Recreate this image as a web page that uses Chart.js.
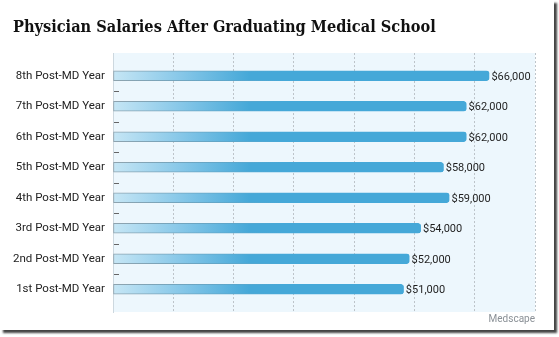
<!DOCTYPE html>
<html>
<head>
<meta charset="utf-8">
<script src="https://cdn.jsdelivr.net/npm/chart.js@4"></script>
<style>
  html, body { margin: 0; padding: 0; background: #fff; }
  .frame { position: absolute; left: 0; top: 0; width: 554px; height: 330px; background: #fff; box-shadow: 3px 3px 2px #444; }
  canvas { display: block; }
</style>
</head>
<body>
<div class="frame"><canvas id="salaryChart" width="554" height="330"></canvas></div>
<script>
const categories = ['1st Post-MD Year', '2nd Post-MD Year', '3rd Post-MD Year', '4th Post-MD Year',
    '5th Post-MD Year', '6th Post-MD Year', '7th Post-MD Year', '8th Post-MD Year'];
const salaries = [51000, 52000, 54000, 59000, 58000, 62000, 62000, 66000];
const xTickStep = 10000;

function money(v) {
    return '$' + v.toLocaleString('en-US');
}

const plotBackground = {
    id: 'plotBackground',
    beforeDraw(chart) {
        const { ctx, chartArea } = chart;
        ctx.save();
        ctx.fillStyle = '#edf7fd';
        ctx.fillRect(chartArea.left, chartArea.top, chartArea.right - chartArea.left, chartArea.bottom - chartArea.top);
        ctx.restore();
    },
};

const rowTicks = {
    id: 'rowTicks',
    afterDatasetsDraw(chart) {
        const { ctx, chartArea } = chart;
        const y = chart.scales.y;
        ctx.save();
        ctx.strokeStyle = '#666';
        ctx.lineWidth = 1;
        for (let i = 0; i < categories.length - 1; i += 1) {
            const py = Math.round(y.getPixelForValue(i + 0.5)) + 0.5;
            ctx.beginPath();
            ctx.moveTo(chartArea.left + 1, py);
            ctx.lineTo(chartArea.left + 6, py);
            ctx.stroke();
        }
        ctx.restore();
    },
};

const valueLabels = {
    id: 'valueLabels',
    afterDatasetsDraw(chart) {
        const { ctx } = chart;
        const meta = chart.getDatasetMeta(0);
        ctx.save();
        ctx.font = '11px Roboto';
        ctx.fillStyle = '#1e1e1e';
        ctx.textAlign = 'left';
        ctx.textBaseline = 'middle';
        meta.data.forEach((bar, i) => {
            ctx.fillText(money(salaries[i]), bar.x + 2, bar.y + 1);
        });
        ctx.restore();
    },
    afterDraw(chart) {
        const { ctx, chartArea } = chart;
        ctx.save();
        ctx.font = '10px Roboto';
        ctx.fillStyle = '#8a9096';
        ctx.textAlign = 'right';
        ctx.textBaseline = 'middle';
        ctx.fillText('Medscape', chartArea.right, chartArea.bottom + 7);
        ctx.restore();
    },
};

function barFill(context) {
    const { chart } = context;
    if (!chart.chartArea) return '#45a8d8';
    const x = chart.scales.x;
    const g = chart.ctx.createLinearGradient(x.getPixelForValue(0), 0, x.getPixelForValue(24000), 0);
    g.addColorStop(0, '#c6e6f5');
    g.addColorStop(0.5, '#86c7e8');
    g.addColorStop(1, '#45a8d8');
    return g;
}

function barBorder(context) {
    const { chart } = context;
    if (!chart.chartArea) return '#7f9aa8';
    const x = chart.scales.x;
    const g = chart.ctx.createLinearGradient(x.getPixelForValue(0), 0, x.getPixelForValue(30000), 0);
    g.addColorStop(0, '#8fa3ae');
    g.addColorStop(1, '#45a8d8');
    return g;
}

const ctx = document.getElementById('salaryChart').getContext('2d');
new Chart(ctx, {
    type: 'bar',
    data: {
        datasets: [{
            data: salaries.map((v, i) => ({ x: v, y: i })),
            backgroundColor: barFill,
            borderColor: barBorder,
            borderWidth: { top: 1, left: 1, bottom: 1, right: 0 },
            borderSkipped: false,
            borderRadius: { topLeft: 0, bottomLeft: 0, topRight: 3, bottomRight: 3 },
            barThickness: 10,
        }],
    },
    options: {
        indexAxis: 'y',
        responsive: false,
        animation: false,
        layout: { padding: { top: 0, left: 13, right: 19, bottom: 18 } },
        plugins: {
            legend: { display: false },
            tooltip: { enabled: false },
            title: {
                display: true,
                text: 'Physician Salaries After Graduating Medical School',
                align: 'start',
                color: '#111',
                font: { family: "'DejaVu Serif Condensed', 'DejaVu Serif'", size: 16.2, weight: 'bold', lineHeight: 1.2 },
                padding: { top: 18.5, bottom: 15.1 },
            },
        },
        scales: {
            x: {
                type: 'linear',
                min: 0,
                max: 74000,
                ticks: { display: false, stepSize: xTickStep, includeBounds: false },
                grid: {
                    drawTicks: false,
                    color: (c) => (c.tick && c.tick.value === 0 ? 'rgba(0,0,0,0)' : '#bcc3c9'),
                    lineWidth: 1,
                },
                border: { display: false, dash: [2, 2] },
            },
            y: {
                type: 'linear',
                min: -0.215,
                max: 7.215,
                afterFit(scale) { scale.width = 100; },
                ticks: {
                    stepSize: 1,
                    includeBounds: false,
                    autoSkip: false,
                    padding: 8,
                    color: '#222',
                    font: { family: 'Roboto', size: 11.5 },
                    callback: (v) => (Number.isInteger(v) ? categories[v] : ''),
                },
                grid: { display: false, drawTicks: false },
                border: { display: true, color: '#cdd8df', width: 1 },
            },
        },
    },
    plugins: [plotBackground, rowTicks, valueLabels],
});
</script>
</body>
</html>
